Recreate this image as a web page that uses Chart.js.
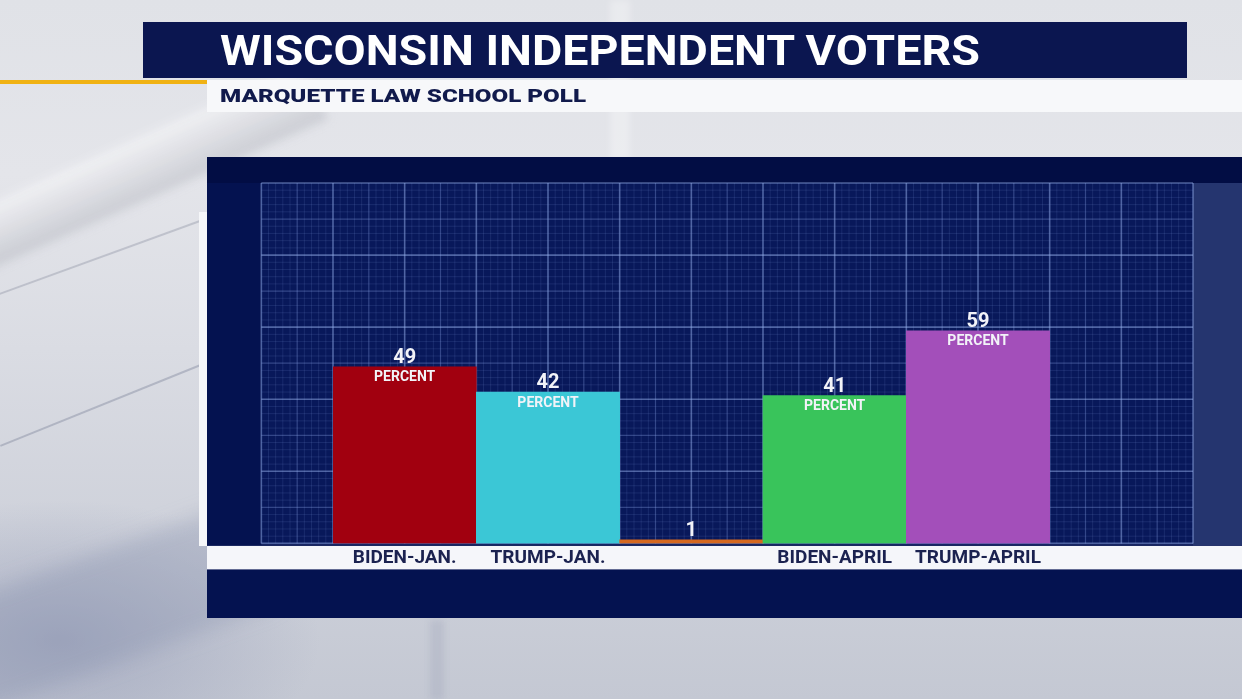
<!DOCTYPE html>
<html><head><meta charset="utf-8">
<script src="https://cdn.jsdelivr.net/npm/chart.js@4.4.1/dist/chart.umd.min.js"></script>
<style>
html,body{margin:0;padding:0;width:1242px;height:699px;overflow:hidden;}
body{position:relative;font-family:Roboto,sans-serif;
 background:
  radial-gradient(ellipse 260px 140px at 60px 640px, rgba(140,148,178,0.55), rgba(140,148,178,0) 100%),
  linear-gradient(180deg,#e0e2e7 0%,#e4e5ea 25%,#dadce3 50%,#cfd2db 75%,#c4c8d3 100%);}
.streak{position:absolute;transform-origin:0 0;}
#titlebar{position:absolute;left:143px;top:22px;width:1044px;height:56px;background:#0b1650;}
#title{position:absolute;left:77px;top:2px;color:#fff;font-weight:700;font-size:43px;line-height:52px;white-space:nowrap;transform-origin:0 50%;}
#orange{position:absolute;left:0;top:80px;width:207px;height:4px;background:#f0b214;}
#subbar{position:absolute;left:207px;top:80px;width:1035px;height:32px;background:#f7f8fa;}
#subtitle{position:absolute;left:13px;top:3px;color:#111a4c;font-weight:900;font-size:19px;line-height:26px;white-space:nowrap;transform-origin:0 50%;}
#leftstrip{position:absolute;left:199px;top:212px;width:9px;height:334px;background:#f6f7f9;}
#panel{position:absolute;left:207px;top:157px;width:1035px;height:461px;background:#041250;}
canvas{display:block;}
</style></head><body>
<div class="streak" style="left:-80px;top:235px;width:420px;height:60px;transform:rotate(-24deg);filter:blur(5px);background:linear-gradient(180deg,rgba(255,255,255,0.5),rgba(165,168,178,0.4))"></div>
<div class="streak" style="left:-20px;top:300px;width:260px;height:2px;transform:rotate(-20deg);background:rgba(150,155,170,0.45)"></div>
<div class="streak" style="left:0px;top:445px;width:230px;height:2px;transform:rotate(-22deg);background:rgba(140,145,165,0.5)"></div>
<div class="streak" style="left:-60px;top:610px;width:320px;height:110px;transform:rotate(-20deg);filter:blur(10px);background:rgba(130,140,170,0.3)"></div>
<div class="streak" style="left:610px;top:0px;width:20px;height:160px;filter:blur(3px);background:rgba(255,255,255,0.3)"></div>
<div class="streak" style="left:430px;top:620px;width:14px;height:80px;filter:blur(3px);background:rgba(160,165,185,0.35)"></div>
<div id="titlebar"><span id="title">WISCONSIN INDEPENDENT VOTERS</span></div>
<div id="orange"></div>
<div id="subbar"><span id="subtitle">MARQUETTE LAW SCHOOL POLL</span></div>
<div id="leftstrip"></div>
<div id="panel"><canvas id="c" width="1035" height="461"></canvas></div>
<script>
const categories = ['BIDEN-JAN.', 'TRUMP-JAN.', '', 'BIDEN-APRIL', 'TRUMP-APRIL', ''];
const values = [49, 42, 1, 41, 59, null];
const valueLabels = ['49', '42', '1', '41', '59', ''];
const unitLabels = ['PERCENT', 'PERCENT', '', 'PERCENT', 'PERCENT', ''];
const barColors = ['#a1000f', '#3bc7d6', '#d5681f', '#39c45b', '#a34fba', 'rgba(0,0,0,0)'];
const yMin = 0, yMax = 100;

function fitText(id, target){
  const el = document.getElementById(id);
  const w = el.getBoundingClientRect().width;
  el.style.transform = 'scaleX(' + (target / w) + ')';
}
fitText('title', 760);
fitText('subtitle', 366);

const panelPlugin = {
  id: 'panel',
  beforeDraw(chart){
    const {ctx, chartArea: a, width} = chart;
    ctx.save();
    ctx.fillStyle = '#020d44';
    ctx.fillRect(0, 0, width, a.top);
    ctx.fillStyle = '#25356f';
    ctx.fillRect(a.right, a.top, width - a.right, a.bottom - a.top + 2);
    ctx.fillStyle = '#f5f6fa';
    ctx.fillRect(0, a.bottom + 2.5, width, 23.5);
    ctx.restore();
  },
  beforeDatasetsDraw(chart){
    const {ctx, chartArea: a, scales: {x, y}} = chart;
    const w = x.getPixelForValue(1) - x.getPixelForValue(0);
    const gl = a.left - w / 2;
    ctx.save();
    ctx.fillStyle = '#08185a';
    ctx.fillRect(gl, a.top, a.right - gl, a.bottom - a.top);
    const style = (major, mid) => {
      if (major) { ctx.strokeStyle = 'rgba(150,175,235,0.5)'; ctx.lineWidth = 1.6; }
      else if (mid) { ctx.strokeStyle = 'rgba(140,165,230,0.33)'; ctx.lineWidth = 1.2; }
      else { ctx.strokeStyle = 'rgba(130,155,220,0.15)'; ctx.lineWidth = 1; }
    };
    for (let k = 0; ; k++) {
      const px = gl + k * w / 20;
      if (px > a.right + 0.5) break;
      style(k % 10 === 0, k % 5 === 0);
      ctx.beginPath(); ctx.moveTo(px, a.top); ctx.lineTo(px, a.bottom); ctx.stroke();
    }
    for (let v = yMin; v <= yMax; v += 2) {
      const py = y.getPixelForValue(v);
      style(v % 20 === 0, v % 10 === 0);
      ctx.beginPath(); ctx.moveTo(gl, py); ctx.lineTo(a.right, py); ctx.stroke();
    }
    ctx.restore();
  },
  afterDatasetsDraw(chart){
    const {ctx} = chart;
    const meta = chart.getDatasetMeta(0);
    ctx.save();
    ctx.textAlign = 'center';
    ctx.textBaseline = 'middle';
    meta.data.forEach((bar, i) => {
      if (values[i] == null) return;
      ctx.fillStyle = '#f2f3f8';
      ctx.font = 'bold 20px Roboto, sans-serif';
      ctx.fillText(valueLabels[i], bar.x, bar.y - 9);
      if (unitLabels[i]) {
        ctx.font = 'bold 14px Roboto, sans-serif';
        ctx.fillText(unitLabels[i], bar.x, bar.y + 11);
      }
    });
    ctx.restore();
  }
};

const chart = new Chart(document.getElementById('c'), {
  type: 'bar',
  data: {
    labels: categories,
    datasets: [{
      data: values,
      backgroundColor: barColors,
      borderWidth: 0,
      barPercentage: 1,
      categoryPercentage: 1
    }]
  },
  options: {
    responsive: false,
    animation: false,
    layout: {padding: {left: 126, right: 49, top: 26, bottom: 45}},
    plugins: {legend: {display: false}, tooltip: {enabled: false}},
    scales: {
      x: {
        grid: {display: false, drawTicks: false},
        border: {display: false},
        ticks: {
          padding: 4,
          color: '#1b2250',
          font: {family: 'Roboto, sans-serif', weight: 'bold', size: 19, lineHeight: 1.1},
          maxRotation: 0, autoSkip: false
        }
      },
      y: {display: false, min: yMin, max: yMax}
    }
  },
  plugins: [panelPlugin]
});
const targetBottom = 386.4;
const diff = chart.chartArea.bottom - targetBottom;
if (Math.abs(diff) > 0.3) {
  chart.options.layout.padding.bottom += diff;
  chart.update();
}
</script>
</body></html>
